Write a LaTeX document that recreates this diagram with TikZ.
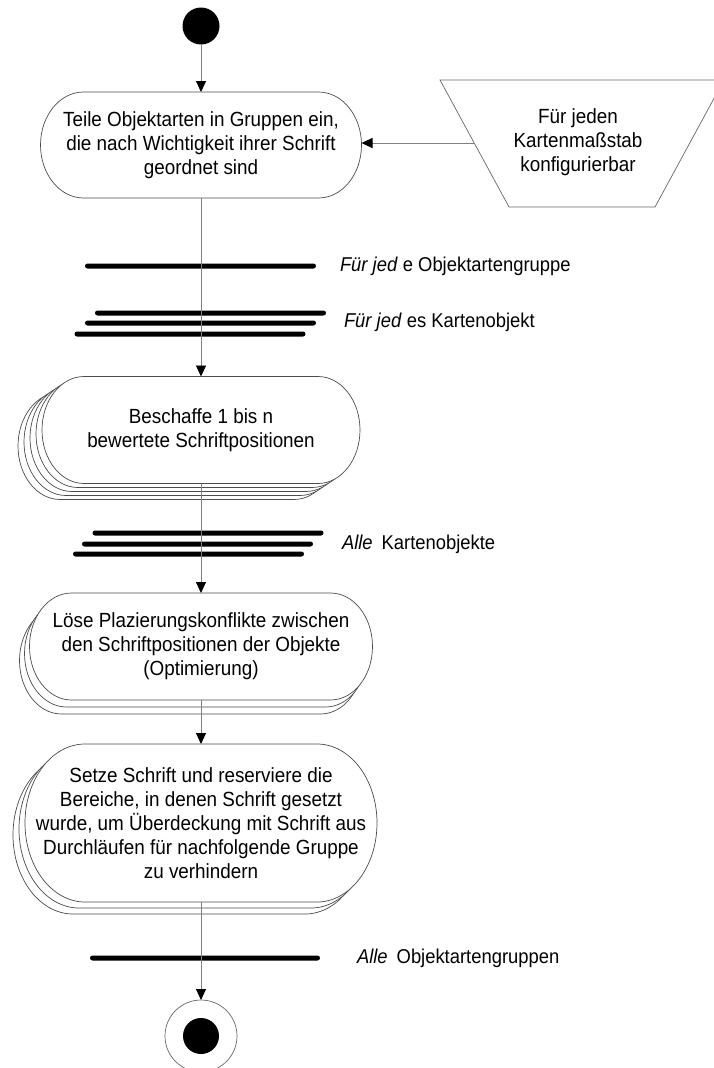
\documentclass[tikz,border=0pt]{standalone}
\usepackage{fontspec}
\setmainfont{Liberation Sans}[FakeStretch=0.92]
\usetikzlibrary{arrows.meta}
\pgfdeclarelayer{background}
\pgfsetlayers{background,main}

% Rounded activity outline around a node: #1 node, #2 half height,
% #3 horizontal radius of the ends, #4/#5 offset of this copy
\newcommand\capsule[5]{%
  \draw[capsule line]
    ([shift={(#3+#4,#5)}]#1.north west) -- ([shift={(-#3+#4,#5)}]#1.north east)
    arc[start angle=90, end angle=-90, x radius=#3pt, y radius=#2pt]
    -- ([shift={(#3+#4,#5)}]#1.south west)
    arc[start angle=270, end angle=90, x radius=#3pt, y radius=#2pt] -- cycle;}

\begin{document}
\begin{tikzpicture}[x=1pt, y=-1pt,
  every node/.style={inner sep=0pt, outer sep=0pt},
  txt/.style={font=\fontsize{20.5}{24}\selectfont, align=center},
  lbl/.style={font=\fontsize{20}{22}\selectfont, anchor=west},
  activity/.style={txt, rectangle, minimum width=#1},
  capsule line/.style={draw=black!70, line width=0.7pt, fill=white},
  note line/.style={draw=black!60, line width=0.7pt},
  flow/.style={draw=black!50, line width=0.9pt,
    -{Triangle[width=10pt, length=11pt, color=black]}},
  syncbar/.style={rectangle, fill=black, minimum height=5pt,
    rounded corners=2.5pt, minimum width=#1},
  syncbar/.default=231
]
\useasboundingbox (0,0) rectangle (713,1068);

% start and end states
\node[circle, fill=black, minimum size=37pt] (start) at (201,26) {};
\node[circle, draw=black!60, line width=0.7pt, minimum size=72pt,
  path picture={\fill[black] (path picture bounding box.center) circle (18pt);}]
  (stop) at (201,1036) {};

% activities
\node[activity=321, minimum height=106pt] (sort) at (201,145)
  {Teile Objektarten in Gruppen ein,\\die nach Wichtigkeit ihrer Schrift\\geordnet sind};
\node[activity=318, minimum height=107pt] (act2) at (201,430)
  {Beschaffe 1 bis n\\bewertete Schriftpositionen};
\node[activity=343, minimum height=107pt] (act3) at (201,646.5)
  {Löse Plazierungskonflikte zwischen\\den Schriftpositionen der Objekte\\(Optimierung)};
\node[activity=352, minimum height=158pt] (act4) at (201,823)
  {Setze Schrift und reserviere die\\Bereiche, in denen Schrift gesetzt\\wurde, um Überdeckung mit Schrift aus\\Durchläufen für nachfolgende Gruppe\\zu verhindern};

% configuration note (inverted trapezoid, running off the right edge)
\node[txt] (cfg) at (578,142) {Für jeden\\Kartenmaßstab\\konfigurierbar};
\draw[note line] (440,80) -- (724,80) -- (655,207) -- (509,207) -- cycle;
\coordinate (cfgin) at (474.5,143);

% outlines of the activities, stacked copies behind
\begin{pgfonlayer}{background}
  \capsule{sort}{53}{43}{0}{0}
  \foreach \k in {4,3,2,1,0} {\capsule{act2}{53.5}{42}{-6*\k}{4*\k}}
  \foreach \k in {2,1,0} {\capsule{act3}{53.5}{42}{-5*\k}{7*\k}}
  \foreach \k in {2,1,0} {\capsule{act4}{79}{60}{-6*\k}{6*\k}}
\end{pgfonlayer}

% synchronisation bars
\node[syncbar] (loopA) at (200.5,266) {};
\node[syncbar] (loopB1) at (210.5,313) {};
\node[syncbar] (loopB2) at (200.5,323) {};
\node[syncbar] (loopB3) at (190,334) {};
\node[syncbar] (endB1) at (208,533) {};
\node[syncbar] (endB2) at (197.5,544) {};
\node[syncbar] (endB3) at (188.5,554) {};
\node[syncbar=230] (endA) at (205,958) {};

\node[lbl] (labA) at (340,266) {\textit{Für jed} e Objektartengruppe};
\node[lbl] (labB) at (344,322) {\textit{Für jed} es Kartenobjekt};
\node[lbl] (labC) at (342,544) {\textit{Alle}\hspace{0.45em}Kartenobjekte};
\node[lbl] (labD) at (357,958) {\textit{Alle}\hspace{0.45em}Objektartengruppen};

% control flow
\draw[flow] (start) -- (sort);
\draw[flow] (cfgin) -- (cfgin -| sort.east);
\draw[flow] (sort) -- (act2);
\draw[flow] (act2) -- (act3);
\draw[flow] (act3) -- (act4);
\draw[flow] (act4) -- (stop);
\end{tikzpicture}
\end{document}
